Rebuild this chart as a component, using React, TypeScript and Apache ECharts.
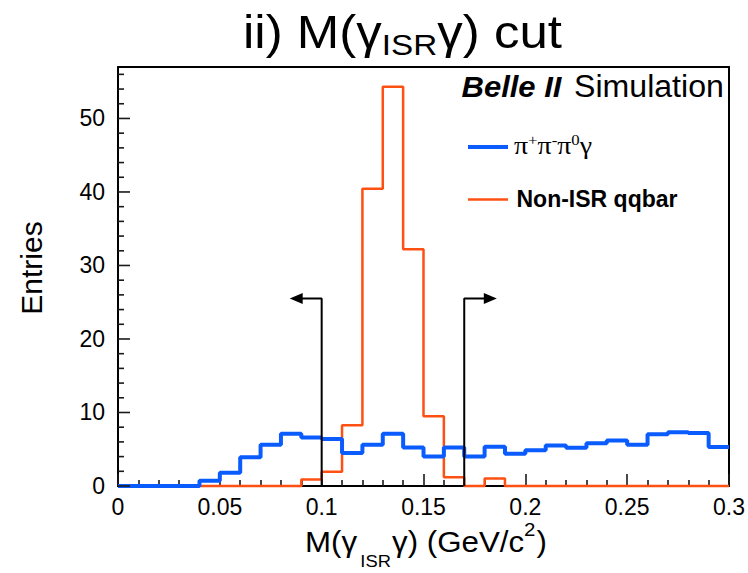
import React, { useEffect, useRef } from "react";
import * as echarts from "echarts";

// ---- data ----
const binEdges = [
  0, 0.01, 0.02, 0.03, 0.04, 0.05, 0.06, 0.07, 0.08, 0.09, 0.1,
  0.11, 0.12, 0.13, 0.14, 0.15, 0.16, 0.17, 0.18, 0.19, 0.2,
  0.21, 0.22, 0.23, 0.24, 0.25, 0.26, 0.27, 0.28, 0.29, 0.3,
];
const signalCounts = [
  0, 0, 0, 0, 0.7, 1.8, 3.9, 5.6, 7.1, 6.6,
  6.4, 4.5, 5.6, 7.1, 5.25, 4.0, 5.25, 4.0, 5.35, 4.4,
  4.85, 5.5, 5.2, 5.8, 6.2, 5.6, 7.05, 7.3, 7.2, 5.3,
];
const qqbarCounts = [
  0, 0, 0, 0, 0, 0, 0, 0, 0, 0.9,
  1.93, 8.25, 40.45, 54.3, 32.2, 9.5, 1.2, 0, 1.02, 0,
  0, 0, 0, 0, 0, 0, 0, 0, 0, 0,
];
const yMajorTicks = [0, 10, 20, 30, 40, 50];
const yMinorTicks = [2, 4, 6, 8, 12, 14, 16, 18, 22, 24, 26, 28, 32, 34, 36, 38, 42, 44, 46, 48, 52, 54, 56];
const yMax = 57;
const cutLow = 0.1;
const cutHigh = 0.17;
const cutArrowY = 25.5;
const cutLowArrowEnd = 0.0875;
const cutHighArrowEnd = 0.1828;

const BLUE = "#0a5cff";
const ORANGE = "#ff5014";
const TICK = "#1a1a1a";
const SANS = '"Liberation Sans", Arial, Helvetica, sans-serif';
const SERIF = '"Liberation Serif", "Times New Roman", serif';

type Part = {
  t: string;
  size: number;
  dy?: number;
  gap?: number;
  weight?: string;
  style?: string;
  family?: string;
};

function histPoints(counts: number[]) {
  return binEdges.map((e, i) => [e, counts[Math.min(i, counts.length - 1)]]);
}

function buildLine(
  ctx: CanvasRenderingContext2D,
  parts: Part[],
  x0: number,
  baseline: number,
  targetWidth: number
) {
  let cx = 0;
  const children: any[] = [];
  parts.forEach((p) => {
    cx += p.gap || 0;
    const fam = p.family || SANS;
    const weight = p.weight || "normal";
    const fstyle = p.style || "normal";
    ctx.font = `${fstyle} ${weight} ${p.size}px ${fam}`;
    const w = ctx.measureText(p.t).width;
    children.push({
      type: "text",
      x: cx,
      y: baseline + (p.dy || 0) - 0.345 * p.size,
      style: {
        text: p.t,
        fill: "#000",
        fontSize: p.size,
        fontFamily: fam,
        fontWeight: weight,
        fontStyle: fstyle,
        align: "left",
        textAlign: "left",
        verticalAlign: "middle",
        textVerticalAlign: "middle",
      },
    });
    cx += w;
  });
  return {
    type: "group",
    x: x0,
    y: 0,
    scaleX: targetWidth / cx,
    scaleY: 1,
    children,
  };
}

export default function App() {
  const ref = useRef<HTMLDivElement>(null);

  useEffect(() => {
    if (!ref.current) return;
    const chart = echarts.init(ref.current, undefined, { renderer: "svg" });
    const canvas = document.createElement("canvas");
    const ctx = canvas.getContext("2d") as CanvasRenderingContext2D;

    const title = buildLine(
      ctx,
      [
        { t: "ii) M(γ", size: 46 },
        { t: "ISR", size: 30, dy: 7 },
        { t: "γ) cut", size: 46 },
      ],
      243,
      48,
      319
    );
    const xTitle = buildLine(
      ctx,
      [
        { t: "M(γ", size: 29 },
        { t: "ISR", size: 17, dy: 15, gap: 3 },
        { t: "γ) (GeV/c", size: 29, gap: 1 },
        { t: "2", size: 19, dy: -16 },
        { t: ")", size: 29, gap: 1 },
      ],
      305,
      552,
      242
    );
    const belle = buildLine(ctx, [{ t: "Belle II", size: 30, weight: "bold", style: "italic" }], 461.5, 96.5, 100);
    const simu = buildLine(ctx, [{ t: "Simulation", size: 31 }], 574, 97, 150);
    const sigLabel = buildLine(
      ctx,
      [
        { t: "π", size: 25, family: SERIF },
        { t: "+", size: 15, dy: -9, family: SERIF },
        { t: "π", size: 25, family: SERIF },
        { t: "-", size: 15, dy: -9, family: SERIF },
        { t: "π", size: 25, family: SERIF },
        { t: "0", size: 15, dy: -9, family: SERIF },
        { t: "γ", size: 25, family: SERIF },
      ],
      514,
      154,
      78
    );
    const bkgLabel = buildLine(ctx, [{ t: "Non-ISR qqbar", size: 23, weight: "bold" }], 516.5, 206.5, 161);

    const frameLine = { show: true, onZero: false, lineStyle: { color: "#000", width: 2 } };

    chart.setOption({
      animation: false,
      backgroundColor: "#fff",
      grid: {
        left: 118,
        top: 67,
        width: 612,
        height: 419,
        show: false,
      },
      xAxis: [
        {
          type: "value",
          min: 0,
          max: 0.3,
          interval: 0.05,
          position: "bottom",
          axisLine: frameLine,
          axisTick: { show: true, inside: true, length: 12, lineStyle: { color: TICK, width: 1.6 } },
          minorTick: { show: true, splitNumber: 5, length: 6, lineStyle: { color: TICK, width: 1.6 } },
          splitLine: { show: false },
          axisLabel: {
            show: true,
            margin: 9,
            color: "#000",
            fontSize: 23,
            fontFamily: SANS,
            formatter: (v: number) => String(parseFloat(v.toFixed(2))),
          },
        },
        {
          type: "value",
          min: 0,
          max: 0.3,
          interval: 0.05,
          position: "top",
          axisLine: frameLine,
          axisTick: { show: false },
          splitLine: { show: false },
          axisLabel: { show: false },
        },
      ],
      yAxis: [
        {
          type: "value",
          min: 0,
          max: yMax,
          position: "left",
          axisLine: frameLine,
          axisTick: { show: false },
          splitLine: { show: false },
          axisLabel: {
            show: true,
            margin: 13,
            color: "#000",
            fontSize: 23,
            fontFamily: SANS,
            customValues: yMajorTicks,
            formatter: (v: number) => String(Math.round(v)),
          },
        },
        {
          type: "value",
          min: 0,
          max: yMax,
          position: "right",
          axisLine: frameLine,
          axisTick: { show: false },
          splitLine: { show: false },
          axisLabel: { show: false },
        },
      ],
      series: [
        {
          name: "Non-ISR qqbar",
          type: "line",
          step: "end",
          data: histPoints(qqbarCounts),
          symbol: "none",
          clip: false,
          lineStyle: { color: ORANGE, width: 2.5 },
          itemStyle: { color: ORANGE },
          z: 3,
        },
        {
          name: "π+π-π0γ",
          type: "line",
          step: "end",
          data: histPoints(signalCounts),
          symbol: "none",
          clip: false,
          lineStyle: { color: BLUE, width: 4 },
          itemStyle: { color: BLUE },
          z: 4,
        },
        {
          name: "cut low",
          type: "line",
          data: [
            [cutLow, 0],
            [cutLow, cutArrowY],
            { value: [cutLowArrowEnd, cutArrowY], symbol: "triangle", symbolSize: [11, 13], symbolRotate: 90 },
          ],
          symbol: "none",
          showSymbol: true,
          clip: false,
          lineStyle: { color: "#000", width: 2 },
          itemStyle: { color: "#000" },
          z: 5,
        },
        {
          name: "cut high",
          type: "line",
          data: [
            [cutHigh, 0],
            [cutHigh, cutArrowY],
            { value: [cutHighArrowEnd, cutArrowY], symbol: "triangle", symbolSize: [11, 13], symbolRotate: -90 },
          ],
          symbol: "none",
          showSymbol: true,
          clip: false,
          lineStyle: { color: "#000", width: 2 },
          itemStyle: { color: "#000" },
          z: 5,
        },
      ],
    });

    // y-axis tick marks inside the frame, placed through the axis scale
    const ticks: any[] = [];
    const addY = (vals: number[], len: number) =>
      vals.forEach((v) => {
        const p = chart.convertToPixel({ xAxisIndex: 0, yAxisIndex: 0 }, [0, v]) as number[];
        ticks.push({
          type: "line",
          z: 10,
          shape: { x1: p[0], y1: p[1], x2: p[0] + len, y2: p[1] },
          style: { stroke: TICK, lineWidth: 1.6 },
        });
      });
    addY(yMajorTicks, 12);
    addY(yMinorTicks, 6);

    chart.setOption({
      graphic: [
        title,
        xTitle,
        belle,
        simu,
        sigLabel,
        bkgLabel,
        {
          type: "text",
          x: 31,
          y: 268,
          rotation: Math.PI / 2,
          style: {
            text: "Entries",
            fill: "#000",
            fontSize: 30,
            fontFamily: SANS,
            align: "center",
            textAlign: "center",
            verticalAlign: "middle",
            textVerticalAlign: "middle",
          },
        },
        {
          type: "line",
          shape: { x1: 468, y1: 147, x2: 508, y2: 147 },
          style: { stroke: BLUE, lineWidth: 4 },
        },
        {
          type: "line",
          shape: { x1: 468, y1: 199.5, x2: 508, y2: 199.5 },
          style: { stroke: ORANGE, lineWidth: 2.5 },
        },
        ...ticks,
      ],
    });

    return () => chart.dispose();
  }, []);

  return (
    <div
      ref={ref}
      style={{ position: "absolute", left: 0, top: 0, width: 748, height: 573, background: "#fff" }}
    />
  );
}
